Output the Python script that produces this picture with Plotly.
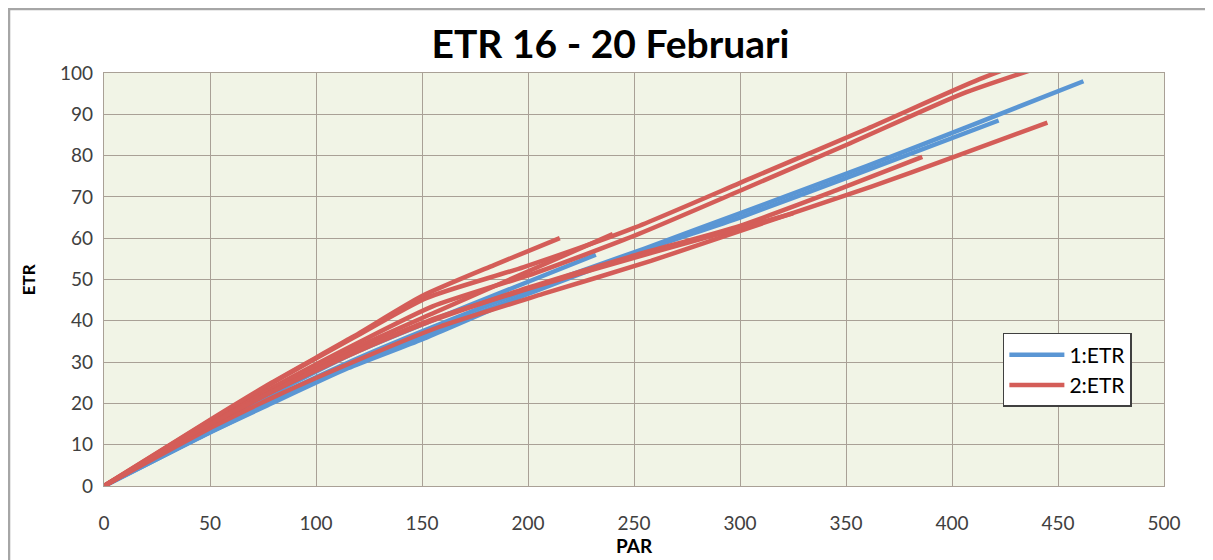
import plotly.graph_objects as go

# ---- data: individual rapid light curves (PAR, ETR) ----
# series 1:ETR (blue)
b1_par = [0, 50, 80, 120, 155, 200, 255, 305, 360, 410, 462]
b1_etr = [0, 14, 21.5, 31, 38.5, 47.5, 57.5, 67, 77.5, 87.5, 98]
b2_par = [0, 50, 80, 120, 155, 200, 254, 300, 355, 422]
b2_etr = [0, 13, 20.5, 30, 37.5, 46.5, 57, 65, 75.5, 88.5]
b3_par = [0, 50, 78, 117, 152, 193, 232]
b3_etr = [0, 14.5, 22, 32, 39.5, 48, 56]
b4_par = [0, 48, 77, 115, 150, 193]
b4_etr = [0, 12.5, 19.5, 28.5, 35.5, 45]

# series 2:ETR (red)
ra_par = [0, 49, 78, 118, 152, 198, 250, 305, 360, 413, 452]
ra_etr = [0, 15.5, 24.5, 36, 45.5, 53, 62.5, 74.5, 86.5, 98.5, 106]
rb_par = [0, 51, 80, 121, 155, 203, 252, 300, 352, 405, 445]
rb_etr = [0, 15.5, 24, 35, 43.5, 51.5, 61, 71.5, 83, 95, 102]
rc_par = [0, 50, 79, 117, 150, 184, 215]
rc_etr = [0, 16, 25, 36, 46, 53.5, 60]
rd_par = [0, 52, 81, 121, 156, 198, 240]
rd_etr = [0, 15.5, 24, 34, 42, 51.5, 61]
re_par = [0, 50, 78, 117, 152, 200, 248, 300, 345, 386]
re_etr = [0, 14.5, 22.5, 32, 39.5, 48, 55.5, 63, 71.5, 79.7]
rf_par = [0, 52, 82, 122, 158, 207, 258, 310, 362, 400, 445]
rf_etr = [0, 14.5, 22, 31, 38.5, 46.5, 54.5, 63.5, 72.5, 79.5, 88]
rg_par = [0, 50, 80, 118, 153, 205, 255, 325]
rg_etr = [0, 15, 23, 32.5, 40, 48.5, 56, 66]

x_ticks = [0, 50, 100, 150, 200, 250, 300, 350, 400, 450, 500]
y_ticks = [0, 10, 20, 30, 40, 50, 60, 70, 80, 90, 100]

series = {
    "1:ETR": [(b1_par, b1_etr), (b2_par, b2_etr), (b3_par, b3_etr), (b4_par, b4_etr)],
    "2:ETR": [(ra_par, ra_etr), (rb_par, rb_etr), (rc_par, rc_etr), (rd_par, rd_etr),
              (re_par, re_etr), (rf_par, rf_etr), (rg_par, rg_etr)],
}
colors = {"1:ETR": "#5A96D4", "2:ETR": "#D45D58"}


def join(curves):
    xs, ys = [], []
    for px, py in curves:
        xs += list(px) + [None]
        ys += list(py) + [None]
    return xs, ys


fig = go.Figure()
for name, curves in series.items():
    xs, ys = join(curves)
    fig.add_trace(go.Scatter(x=xs, y=ys, mode="lines", name=name,
                             line=dict(color=colors[name], width=4.5, shape="spline",
                                       smoothing=0.6),
                             connectgaps=False))

grid = "#A9A096"
font = "Lato, 'Open Sans', sans-serif"
fig.update_layout(
    width=1205, height=552,
    margin=dict(l=96, r=49, t=65, b=74),
    paper_bgcolor="white",
    plot_bgcolor="#F1F4E6",
    title=dict(text="<b>ETR 16 - 20 Februari</b>", x=0.5, xanchor="center",
               y=0.935, yanchor="middle",
               font=dict(family=font, size=39, color="#000000")),
    font=dict(family=font, size=18, color="#404040"),
    showlegend=True,
    legend=dict(x=0.848, y=0.3705, xanchor="left", yanchor="top",
                bgcolor="white", bordercolor="#404040", borderwidth=1.5,
                font=dict(family=font, size=21, color="#000000"),
                tracegroupgap=0, itemwidth=55),
    xaxis=dict(range=[0, 500], tickvals=x_ticks, showgrid=True, gridcolor=grid,
               gridwidth=1.3, showline=True, linecolor=grid, linewidth=1.3,
               mirror=True, zeroline=False, ticks="", ticklabelstandoff=20,
               tickfont=dict(size=19, color="#404040")),
    yaxis=dict(range=[0, 100], tickvals=y_ticks, showgrid=True, gridcolor=grid,
               gridwidth=1.3, showline=True, linecolor=grid, linewidth=1.3,
               mirror=True, zeroline=False, ticks="", ticklabelstandoff=6,
               tickfont=dict(size=19, color="#404040")),
    annotations=[
        dict(text="<b>PAR</b>", xref="paper", yref="paper", x=0.5, y=-0.143,
             xanchor="center", yanchor="middle", showarrow=False,
             font=dict(family=font, size=19, color="#000000")),
        dict(text="<b>ETR</b>", xref="paper", yref="paper", x=-0.071, y=0.5,
             xanchor="center", yanchor="middle", showarrow=False, textangle=-90,
             font=dict(family=font, size=17, color="#000000")),
    ],
    shapes=[dict(type="rect", xref="paper", yref="paper",
                 x0=-0.0896, x1=1.0406, y0=-0.25, y1=1.155,
                 line=dict(color="#A6A6A6", width=2.5), layer="below")],
)

fig.write_html("out.html")
